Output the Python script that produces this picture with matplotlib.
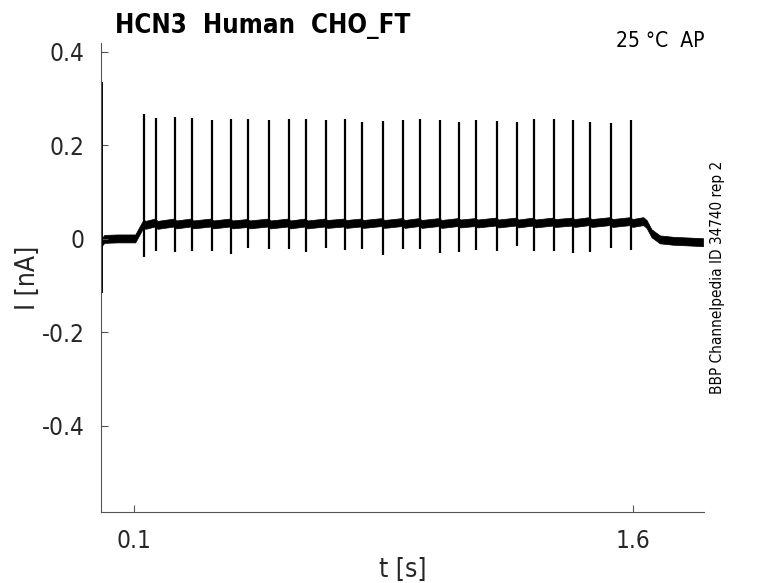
import numpy as np
import matplotlib
matplotlib.use("Agg")
import matplotlib.pyplot as plt

plt.rcParams['font.family'] = ['DejaVu Sans']
plt.rcParams['font.stretch'] = 'condensed'

# spike times [s], peaks and troughs [nA]
spike_t = [0.130, 0.166, 0.223, 0.274, 0.334, 0.392, 0.443, 0.506, 0.566,
           0.617, 0.677, 0.734, 0.785, 0.848, 0.909, 0.960, 1.020, 1.077,
           1.128, 1.191, 1.251, 1.302, 1.362, 1.420, 1.471, 1.534, 1.594]
spike_peak = [0.267, 0.259, 0.261, 0.259, 0.254, 0.257, 0.257, 0.255, 0.257,
              0.257, 0.255, 0.257, 0.250, 0.252, 0.255, 0.257, 0.255, 0.250,
              0.255, 0.252, 0.250, 0.257, 0.257, 0.255, 0.250, 0.248, 0.255]
spike_trough = [-0.039, -0.026, -0.028, -0.026, -0.026, -0.032, -0.019, -0.021, -0.021,
                -0.028, -0.019, -0.024, -0.021, -0.034, -0.021, -0.021, -0.030, -0.028,
                -0.024, -0.026, -0.015, -0.026, -0.026, -0.030, -0.028, -0.019, -0.024]
# baseline level just before / just after each spike
level_pre = [0.034, 0.035, 0.035, 0.035, 0.035, 0.035, 0.034, 0.035, 0.035,
             0.035, 0.035, 0.035, 0.035, 0.036, 0.036, 0.036, 0.036, 0.036,
             0.036, 0.037, 0.037, 0.037, 0.037, 0.037, 0.038, 0.038, 0.038]
level_post = [0.030, 0.030, 0.031, 0.031, 0.031, 0.031, 0.031, 0.031, 0.031,
              0.031, 0.032, 0.032, 0.032, 0.032, 0.032, 0.032, 0.032, 0.033,
              0.033, 0.033, 0.033, 0.033, 0.034, 0.034, 0.034, 0.034, 0.034]
# baseline outside the pulse
t_before = [0.003, 0.010, 0.050, 0.103]
i_before = [-0.006, 0.000, 0.001, 0.001]
t_after = [1.630, 1.640, 1.655, 1.680, 1.720, 1.810]
i_after = [0.038, 0.032, 0.012, -0.001, -0.004, -0.007]
noise_hw = 0.0085
# capacitive artefact at t=0
art_t = 0.003
art_min, art_max = -0.115, 0.335

# assemble baseline trace from the read levels
base_t = list(t_before) + [0.127]
base_i = list(i_before) + [0.032]
for k in range(len(spike_t)):
    base_t += [spike_t[k] - 0.004, spike_t[k] + 0.004]
    base_i += [level_pre[k], level_post[k]]
base_t += t_after
base_i += i_after
base_t = np.array(base_t)
base_i = np.array(base_i)

fig = plt.figure(figsize=(7.78, 5.83), dpi=100)
ax = fig.add_axes([0.1298, 0.1218, 0.7752, 0.8045])

ax.fill_between(base_t, base_i - noise_hw, base_i + noise_hw, color='black', lw=0.5)
ax.vlines(spike_t, spike_trough, spike_peak, color='black', lw=1.6)
ax.vlines([art_t], [art_min], [art_max], color='black', lw=1.4)

ax.set_xlim(0, 1.813)
ax.set_ylim(-0.584, 0.419)
ax.set_xticks([0.1, 1.6])
ax.set_xticklabels(['0.1', '1.6'])
ax.set_yticks([-0.4, -0.2, 0, 0.2, 0.4])
ax.set_yticklabels(['-0.4', '-0.2', '0', '0.2', '0.4'])

for s in ['top', 'right']:
    ax.spines[s].set_visible(False)
for s in ['left', 'bottom']:
    ax.spines[s].set_color('#555555')
    ax.spines[s].set_linewidth(0.8)
ax.tick_params(direction='in', length=5, width=0.8, color='#555555',
               labelsize=17.5, labelcolor='#262626', pad=12)

ax.set_xlabel('t [s]', fontsize=19, color='#262626', labelpad=3)
ax.set_ylabel('I [nA]', fontsize=19, color='#262626')
ax.yaxis.set_label_coords(-0.1, 0.5)

fig.text(0.148, 0.955, 'HCN3  Human  CHO_FT', fontsize=18.5, fontweight='bold',
         ha='left', va='center')
fig.text(0.905, 0.93, '25 °C  AP', fontsize=15, ha='right', va='center')
fig.text(0.922, 0.525, 'BBP Channelpedia ID 34740 rep 2', fontsize=11,
         rotation=90, ha='center', va='center')

fig.savefig('out.png', dpi=100)
